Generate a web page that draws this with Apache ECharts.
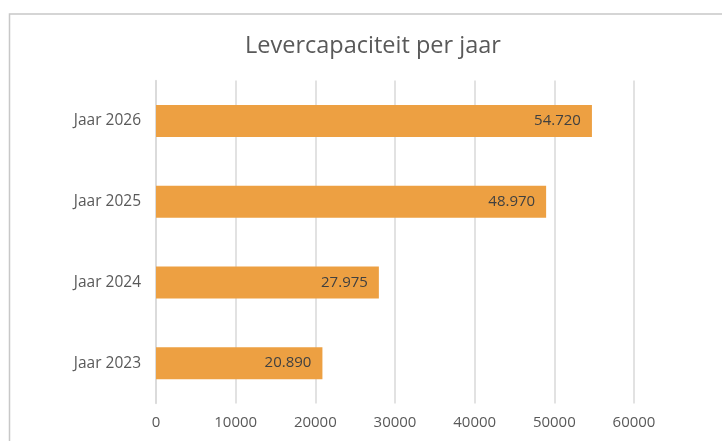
<!DOCTYPE html>
<html>
<head>
<meta charset="utf-8">
<script src="https://cdn.jsdelivr.net/npm/echarts@6/dist/echarts.min.js"></script>
<style>
html,body{margin:0;padding:0;background:#fff;}
#c{width:722px;height:441px;}
</style>
</head>
<body>
<div id="c"></div>
<script>
const titleText = 'Levercapaciteit per jaar';
const categories = ['Jaar 2023', 'Jaar 2024', 'Jaar 2025', 'Jaar 2026'];
const values = [20890, 27975, 48970, 54720];
const xTicks = [0, 10000, 20000, 30000, 40000, 50000, 60000];

const fmt = v => String(v).replace(/\B(?=(\d{3})+(?!\d))/g, '.');

const chart = echarts.init(document.getElementById('c'), null, {renderer: 'canvas'});
chart.setOption({
  animation: false,
  textStyle: {fontFamily: '"Open Sans", "Noto Sans", sans-serif'},
  graphic: [{
    type: 'rect',
    shape: {x: 9.5, y: 14, width: 800, height: 800},
    style: {fill: 'none', stroke: '#c8c8c8', lineWidth: 1.5},
    silent: true, z: -1
  }],
  title: {
    text: titleText,
    left: 240,
    top: 29,
    textStyle: {fontFamily: '"Open Sans", sans-serif', fontSize: 23.5, fontWeight: 'normal', color: '#595959'}
  },
  grid: {left: 156, right: 88, top: 80.5, bottom: 37.5, containLabel: false},
  xAxis: {
    type: 'value',
    min: xTicks[0],
    max: xTicks[xTicks.length - 1],
    interval: xTicks[1] - xTicks[0],
    axisLine: {show: false},
    axisTick: {show: false},
    splitLine: {show: true, lineStyle: {color: '#d9d9d9', width: 1.5}},
    axisLabel: {color: '#595959', fontSize: 15, margin: 12, formatter: v => String(v)}
  },
  yAxis: {
    type: 'category',
    data: categories,
    axisLine: {show: true, lineStyle: {color: '#d9d9d9', width: 1.5}},
    axisTick: {show: false},
    axisLabel: {color: '#595959', fontSize: 15.5, margin: 15}
  },
  series: [{
    type: 'bar',
    data: values,
    barWidth: 32,
    itemStyle: {color: '#EDA042'},
    label: {
      show: true,
      position: 'insideRight',
      distance: 11,
      color: '#404040',
      fontSize: 15,
      formatter: p => fmt(p.value)
    }
  }]
});
</script>
</body>
</html>
